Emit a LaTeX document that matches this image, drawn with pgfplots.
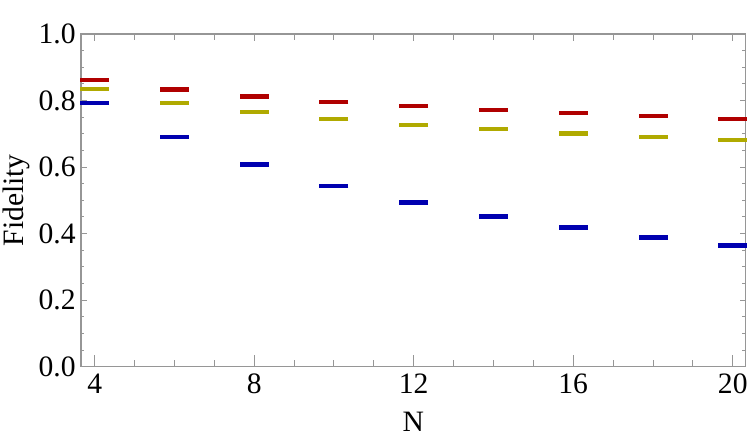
\documentclass[border=0pt]{standalone}
\usepackage{fontspec}
\setmainfont{Liberation Serif}
\usepackage{pgfplots}
\pgfplotsset{compat=1.18}
\definecolor{framegray}{RGB}{150,150,150}
\definecolor{cred}{RGB}{176,0,0}
\definecolor{cyel}{RGB}{176,170,0}
\definecolor{cblue}{RGB}{0,0,176}
\newcommand{\labfont}{\fontsize{14.8}{17}\selectfont\rmfamily}
\pgfplotsset{
  base/.style={
    scale only axis, width=332.25pt, height=166.35pt,
    xmin=3.656, xmax=20.32, ymin=0, ymax=1,
    tick align=inside,
    every tick/.style={draw=framegray, line width=0.5pt},
    every minor tick/.style={draw=framegray, line width=0.5pt},
  },
}
\begin{document}
\begin{tikzpicture}
\begin{axis}[base, name=main,
  axis line style={draw=framegray, line width=0.6pt},
  xtick=\empty,
  ytick={0,0.2,0.4,0.6,0.8,1.0}, minor y tick num=3,
  ytick pos=both, yticklabel pos=left,
  major tick length=2.9pt, minor tick length=1.7pt,
  yticklabel={\labfont\pgfmathprintnumber[fixed,fixed zerofill,precision=1,assume math mode=true]{\tick}},
  yticklabel style={inner xsep=2.5pt},
  ylabel={Fidelity},
  every axis y label/.style={at={(rel axis cs:0,0.5)}, anchor=center, rotate=90, yshift=32.5pt, font=\labfont},
]
\addplot[only marks, mark=-, mark size=7.25pt, line width=2.2pt, color=cblue] coordinates {
(4,0.793) (6,0.690) (8,0.608) (10,0.544) (12,0.493) (14,0.452) (16,0.418) (18,0.388) (20,0.364)};
\addplot[only marks, mark=-, mark size=7.25pt, line width=2.2pt, color=cyel] coordinates {
(4,0.835) (6,0.792) (8,0.765) (10,0.744) (12,0.727) (14,0.714) (16,0.701) (18,0.690) (20,0.681)};
\addplot[only marks, mark=-, mark size=7.25pt, line width=2.2pt, color=cred] coordinates {
(4,0.862) (6,0.833) (8,0.812) (10,0.795) (12,0.783) (14,0.772) (16,0.762) (18,0.754) (20,0.745)};
\end{axis}
\begin{axis}[base,
  axis line style={draw=none},
  ytick=\empty,
  xtick={4,8,12,16,20}, minor x tick num=3,
  xtick pos=left,
  major tick length=5.8pt, minor tick length=3.3pt,
  xticklabel={\labfont\pgfmathprintnumber[assume math mode=true]{\tick}},
  xlabel={N},
  every axis x label/.style={at={(rel axis cs:0.5,0)}, anchor=center, yshift=-27.6pt, font=\labfont},
]
\end{axis}
\begin{axis}[base,
  axis line style={draw=none},
  ytick=\empty,
  xtick={4,8,12,16,20}, minor x tick num=3,
  xtick pos=right, xticklabels={},
  major tick length=3.5pt, minor tick length=3.1pt,
]
\end{axis}
\pgfresetboundingbox
\path[use as bounding box] ([xshift=-40.5pt,yshift=-37.15pt]main.south west) rectangle ([xshift=0.75pt,yshift=17pt]main.north east);
\end{tikzpicture}
\end{document}
